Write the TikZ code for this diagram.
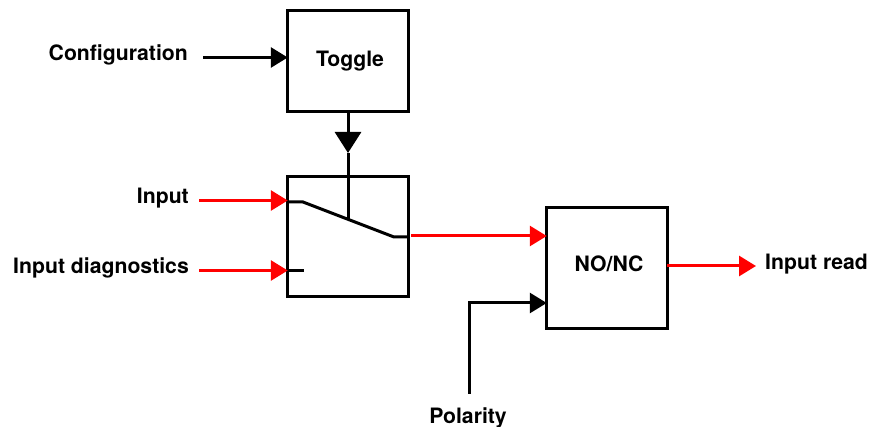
\documentclass[tikz,border=0pt]{standalone}
\usepackage{fontspec}
\setmainfont{TeX Gyre Heros}
\usetikzlibrary{arrows.meta}
\tikzset{
  blockbox/.style={draw, line width=3pt, outer sep=0pt, inner sep=0pt, minimum width=120.5pt},
  lbl/.style={font=\fontsize{21.2}{24}\selectfont\bfseries, inner sep=0pt},
  sigline/.style={red, line width=3pt, -{Triangle[length=17pt,width=20pt]}},
  ctrlline/.style={black, line width=3pt, -{Triangle[length=17pt,width=20pt]}},
  cmdline/.style={black, line width=3pt, -{Triangle[length=21pt,width=26pt]}},
  contact/.style={black, line width=3pt}
}
\begin{document}
\begin{tikzpicture}[x=1pt, y=-1pt]
    \useasboundingbox (0,0) rectangle (878,427);
    \node[blockbox, minimum height=101pt] (toggle) at (348,61.5) {};
    \node[blockbox, minimum height=120pt] (switch) at (348,236.5) {};
    \node[blockbox, minimum height=121pt] (nonc) at (607,268) {};
    \node[lbl] (toggletxt) at (350,61) {Toggle};
    \node[lbl] (nonctxt) at (609,264) {NO/NC};
    \node[lbl, anchor=east] (cfg) at (188,55) {Configuration};
    \node[lbl, anchor=east] (inp) at (189,198) {Input};
    \node[lbl, anchor=east] (diag) at (189,268) {Input diagnostics};
    \node[lbl, anchor=west] (read) at (765,264) {Input read};
    \node[lbl] (pol) at (468,418) {Polarity};
    % free ends
    \coordinate (cfgend) at (203,57.5);
    \coordinate (inpend) at (199,200.5);
    \coordinate (diagend) at (199,270.5);
    \coordinate (swout) at (411,236);
    \coordinate (polend) at (469,394);
    \coordinate (polbend) at (469,303);
    \coordinate (readend) at (756,266);
    \coordinate (cmdtip) at (348,153);
    % switch inside
    \coordinate (la) at (303,202);
    \coordinate (lb) at (394,237);
    \coordinate (lever) at (348,219);
    \draw[contact] (switch.west |- la) -- (la) -- (lb) -- (switch.east |- lb);
    \draw[contact] (switch.west |- diagend) -- (304,270.5);
    % connectors
    \draw[ctrlline] (cfgend) -- (cfgend -| toggle.west);
    \draw[cmdline] (toggle.south) -- (cmdtip);
    \draw[black, line width=3pt] (cmdtip) -- (lever);
    \draw[sigline] (inpend) -- (inpend -| switch.west);
    \draw[sigline] (diagend) -- (diagend -| switch.west);
    \draw[sigline] (swout) -- (swout -| nonc.west);
    \draw[ctrlline] (polend) -- (polbend) -- (polbend -| nonc.west);
    \draw[sigline] (readend -| nonc.east) -- (readend);
  \end{tikzpicture}
\end{document}
